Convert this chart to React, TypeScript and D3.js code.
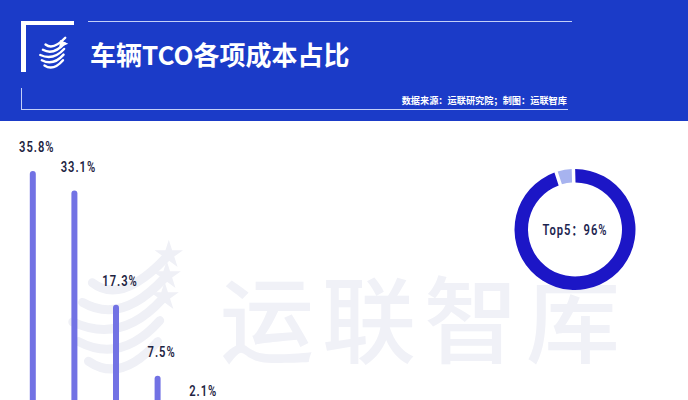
import React from "react";
import * as d3 from "d3";

const categories = ["成本1", "成本2", "成本3", "成本4", "成本5"];
const values = [35.8, 33.1, 17.3, 7.5, 2.1];
const labels = ["35.8%", "33.1%", "17.3%", "7.5%", "2.1%"];
const donutValues = [96, 4];
const donutLabel = "Top5：96%";
const title = "车辆TCO各项成本占比";
const source = "数据来源：运联研究院；制图：运联智库";
const watermark = "运联智库";

const W = 688;
const H = 400;
const NUM_FONT = "Roboto, 'Noto Sans CJK SC', sans-serif";
const CJK_FONT = "'Noto Sans CJK SC', 'Noto Sans', sans-serif";

function StripeGlobe({
  cx,
  cy,
  r,
  color,
  n,
  stars,
}: {
  cx: number;
  cy: number;
  r: number;
  color: string;
  n: number;
  stars: boolean;
}) {
  const idx = d3.range(n);
  return (
    <g>
      {idx.map((i) => {
        const t = i / (n - 1);
        const y0 = cy - r * 0.7 + t * r * 1.4;
        const x0 = cx - r * (0.95 - Math.abs(t - 0.55) * 0.7);
        const x1 = cx + r * (0.75 - t * 0.15);
        const y1 = y0 - r * 0.45 + t * r * 0.1;
        return (
          <path
            key={i}
            d={`M${x0},${y0} Q${cx - r * 0.05},${y0 + r * 0.4} ${x1},${y1}`}
            fill="none"
            stroke={color}
            strokeWidth={r * 0.16}
            strokeLinecap="round"
          />
        );
      })}
      {stars ? (
        idx.slice(0, 3).map((i) => {
          const t = i / (n - 1);
          const y0 = cy - r * 0.7 + t * r * 1.4;
          const x1 = cx + r * (0.75 - t * 0.15);
          const y1 = y0 - r * 0.45 + t * r * 0.1;
          const star = d3.symbol().type(d3.symbolStar).size(r * r * 0.08)();
          return <path key={"s" + i} d={star || ""} transform={`translate(${x1 + r * 0.05},${y1 - r * 0.05})`} fill={color} />;
        })
      ) : (
        <path
          d={`M${cx + r * 0.4},${cy - r * 1.0} L${cx + r * 0.95},${cy - r * 0.75} L${cx + r * 0.35},${cy - r * 0.5} Z`}
          fill={color}
        />
      )}
    </g>
  );
}

function CondText({
  x,
  y,
  children,
  size,
  color,
}: {
  x: number;
  y: number;
  children: React.ReactNode;
  size: number;
  color: string;
}) {
  return (
    <text
      transform={`translate(${x},${y}) scale(0.8,1)`}
      textAnchor="middle"
      fill={color}
      fontFamily={NUM_FONT}
      fontWeight={600}
      fontSize={size}
      letterSpacing={1.2}
    >
      {children}
    </text>
  );
}

export default function App() {
  const x = d3.scaleBand<string>().domain(categories).range([12, 220]).paddingInner(0).paddingOuter(0);
  const y = d3.scaleLinear().domain([0, 35.8]).range([430, 171]);
  const barW = 6;

  const pie = d3
    .pie<number>()
    .sort(null)
    .value((d) => d)
    .startAngle(-0.026)
    .endAngle(-0.026 + Math.PI * 2)
    .padAngle(0.045);
  const arcs = pie(donutValues);
  const arcGen = d3.arc<d3.PieArcDatum<number>>().innerRadius(47).outerRadius(60.5);
  const donutColors = ["#1c16c6", "#a7b3ef"];

  return (
    <svg
      width={W}
      height={H}
      viewBox={`0 0 ${W} ${H}`}
      style={{ position: "absolute", left: 0, top: 0, display: "block", background: "#ffffff" }}
    >
      {/* header */}
      <rect x={0} y={0} width={W} height={121} fill="#1b3bc8" />
      <rect x={21} y={21} width={5} height={51} fill="#ffffff" />
      <rect x={21} y={21} width={53} height={4} fill="#ffffff" />
      <line x1={88} x2={572} y1={21.5} y2={21.5} stroke="#c3cff8" strokeWidth={1.2} />
      <line x1={21.5} x2={21.5} y1={88} y2={109} stroke="#c3cff8" strokeWidth={1} />
      <line x1={21} x2={568} y1={109.5} y2={109.5} stroke="#c3cff8" strokeWidth={1.2} />
      <StripeGlobe cx={54} cy={55} r={15} color="#ffffff" n={5} stars={false} />
      <text x={90} y={65} fill="#ffffff" fontFamily={CJK_FONT} fontWeight={700} fontSize={26}>
        {title}
      </text>
      <text x={567} y={104} fill="#ffffff" textAnchor="end" fontFamily={CJK_FONT} fontWeight={700} fontSize={9.2}>
        {source}
      </text>

      {/* watermark */}
      <StripeGlobe cx={124} cy={322} r={56} color="#eff0f6" n={5} stars={true} />
      <text x={220} y={356} fill="#f0f1f7" fontFamily={CJK_FONT} fontWeight={500} fontSize={94} letterSpacing={8}>
        {watermark}
      </text>

      {/* bars */}
      {categories.map((c, i) => {
        const cx = (x(c) as number) + x.bandwidth() / 2;
        const top = y(values[i]);
        return (
          <g key={c}>
            <rect x={cx - barW / 2} y={top} width={barW} height={H + 20 - top} rx={3} fill="#7272e4" />
            <CondText x={cx + 4} y={top - 19} size={14} color="#1e2442">
              {labels[i]}
            </CondText>
          </g>
        );
      })}

      {/* donut */}
      <g transform="translate(575,229.5)">
        {arcs.map((a, i) => (
          <path key={i} d={arcGen(a) || ""} fill={donutColors[i]} />
        ))}
        <CondText x={0} y={5} size={14} color="#1d2550">
          {donutLabel}
        </CondText>
      </g>
    </svg>
  );
}
